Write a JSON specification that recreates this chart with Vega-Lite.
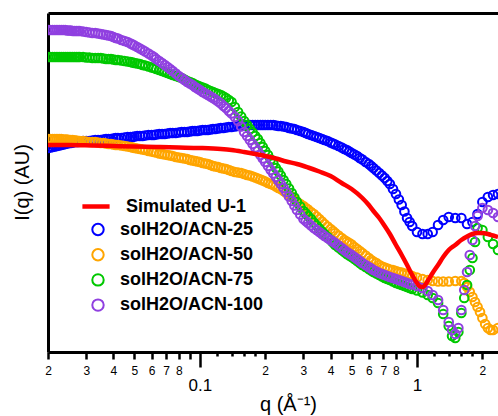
{
  "$schema": "https://vega.github.io/schema/vega-lite/v6.json",
  "width": 450,
  "height": 339,
  "autosize": {"type": "none"},
  "padding": {"left": 48, "top": 13, "right": 0, "bottom": 64},
  "background": "white",
  "config": {"view": {"stroke": null}, "font": "Liberation Sans"},
  "datasets": {
    "saxs": [
      {"q":0.020,"solH2O/ACN-25":204,"solH2O/ACN-50":213,"solH2O/ACN-75":295,"solH2O/ACN-100":322},
      {"q":0.0205,"solH2O/ACN-25":204.5,"solH2O/ACN-50":213,"solH2O/ACN-75":295,"solH2O/ACN-100":322},
      {"q":0.021,"solH2O/ACN-25":205,"solH2O/ACN-50":213,"solH2O/ACN-75":295,"solH2O/ACN-100":322},
      {"q":0.0215,"solH2O/ACN-25":205.5,"solH2O/ACN-50":213,"solH2O/ACN-75":295,"solH2O/ACN-100":322},
      {"q":0.022,"solH2O/ACN-25":206,"solH2O/ACN-50":213,"solH2O/ACN-75":295,"solH2O/ACN-100":322},
      {"q":0.0225,"solH2O/ACN-25":206.5,"solH2O/ACN-50":213,"solH2O/ACN-75":295,"solH2O/ACN-100":322},
      {"q":0.023,"solH2O/ACN-25":207,"solH2O/ACN-50":213,"solH2O/ACN-75":295,"solH2O/ACN-100":322},
      {"q":0.0235,"solH2O/ACN-25":207.5,"solH2O/ACN-50":212.5,"solH2O/ACN-75":295,"solH2O/ACN-100":322},
      {"q":0.024,"solH2O/ACN-25":208,"solH2O/ACN-50":212.5,"solH2O/ACN-75":295,"solH2O/ACN-100":322},
      {"q":0.0245,"solH2O/ACN-25":208.5,"solH2O/ACN-50":212.5,"solH2O/ACN-75":295,"solH2O/ACN-100":321.5},
      {"q":0.025,"solH2O/ACN-25":209,"solH2O/ACN-50":212,"solH2O/ACN-75":295,"solH2O/ACN-100":321.5},
      {"q":0.0255,"solH2O/ACN-25":209,"solH2O/ACN-50":212,"solH2O/ACN-75":295,"solH2O/ACN-100":321.5},
      {"q":0.026,"solH2O/ACN-25":209.5,"solH2O/ACN-50":212,"solH2O/ACN-75":295,"solH2O/ACN-100":321},
      {"q":0.0265,"solH2O/ACN-25":210,"solH2O/ACN-50":211.5,"solH2O/ACN-75":295,"solH2O/ACN-100":321},
      {"q":0.027,"solH2O/ACN-25":210,"solH2O/ACN-50":211.5,"solH2O/ACN-75":295,"solH2O/ACN-100":321},
      {"q":0.0275,"solH2O/ACN-25":210,"solH2O/ACN-50":211,"solH2O/ACN-75":295,"solH2O/ACN-100":321},
      {"q":0.028,"solH2O/ACN-25":210.5,"solH2O/ACN-50":211,"solH2O/ACN-75":295,"solH2O/ACN-100":321},
      {"q":0.029,"solH2O/ACN-25":211,"solH2O/ACN-50":211,"solH2O/ACN-75":295,"solH2O/ACN-100":320.5},
      {"q":0.030,"solH2O/ACN-25":211,"solH2O/ACN-50":210.5,"solH2O/ACN-75":294.5,"solH2O/ACN-100":320},
      {"q":0.031,"solH2O/ACN-25":211,"solH2O/ACN-50":210,"solH2O/ACN-75":294.5,"solH2O/ACN-100":319.5},
      {"q":0.032,"solH2O/ACN-25":211.5,"solH2O/ACN-50":210,"solH2O/ACN-75":294,"solH2O/ACN-100":319},
      {"q":0.033,"solH2O/ACN-25":212,"solH2O/ACN-50":210,"solH2O/ACN-75":294,"solH2O/ACN-100":319},
      {"q":0.034,"solH2O/ACN-25":212,"solH2O/ACN-50":209.5,"solH2O/ACN-75":294,"solH2O/ACN-100":318.5},
      {"q":0.035,"solH2O/ACN-25":212,"solH2O/ACN-50":209,"solH2O/ACN-75":294,"solH2O/ACN-100":318},
      {"q":0.036,"solH2O/ACN-25":212.5,"solH2O/ACN-50":209,"solH2O/ACN-75":293.5,"solH2O/ACN-100":317.5},
      {"q":0.037,"solH2O/ACN-25":213,"solH2O/ACN-50":208.5,"solH2O/ACN-75":293,"solH2O/ACN-100":317},
      {"q":0.038,"solH2O/ACN-25":213,"solH2O/ACN-50":208,"solH2O/ACN-75":293,"solH2O/ACN-100":316.5},
      {"q":0.039,"solH2O/ACN-25":213,"solH2O/ACN-50":208,"solH2O/ACN-75":293,"solH2O/ACN-100":316},
      {"q":0.040,"solH2O/ACN-25":213.5,"solH2O/ACN-50":207.5,"solH2O/ACN-75":292.5,"solH2O/ACN-100":315},
      {"q":0.041,"solH2O/ACN-25":214,"solH2O/ACN-50":207,"solH2O/ACN-75":292,"solH2O/ACN-100":314},
      {"q":0.042,"solH2O/ACN-25":214,"solH2O/ACN-50":207,"solH2O/ACN-75":292,"solH2O/ACN-100":313.5},
      {"q":0.0435,"solH2O/ACN-25":214,"solH2O/ACN-50":206.5,"solH2O/ACN-75":291.5,"solH2O/ACN-100":312},
      {"q":0.045,"solH2O/ACN-25":214.5,"solH2O/ACN-50":206,"solH2O/ACN-75":291,"solH2O/ACN-100":311},
      {"q":0.0465,"solH2O/ACN-25":215,"solH2O/ACN-50":205.5,"solH2O/ACN-75":290.5,"solH2O/ACN-100":310},
      {"q":0.048,"solH2O/ACN-25":215,"solH2O/ACN-50":205,"solH2O/ACN-75":290,"solH2O/ACN-100":308.5},
      {"q":0.049,"solH2O/ACN-25":215,"solH2O/ACN-50":204.5,"solH2O/ACN-75":289.5,"solH2O/ACN-100":307.5},
      {"q":0.050,"solH2O/ACN-25":215.5,"solH2O/ACN-50":204,"solH2O/ACN-75":289,"solH2O/ACN-100":306.5},
      {"q":0.0515,"solH2O/ACN-25":216,"solH2O/ACN-50":203.5,"solH2O/ACN-75":288.5,"solH2O/ACN-100":305},
      {"q":0.053,"solH2O/ACN-25":216,"solH2O/ACN-50":203,"solH2O/ACN-75":288,"solH2O/ACN-100":303.5},
      {"q":0.0545,"solH2O/ACN-25":216,"solH2O/ACN-50":202.5,"solH2O/ACN-75":287,"solH2O/ACN-100":302},
      {"q":0.056,"solH2O/ACN-25":216.5,"solH2O/ACN-50":202,"solH2O/ACN-75":286.5,"solH2O/ACN-100":300.5},
      {"q":0.058,"solH2O/ACN-25":217,"solH2O/ACN-50":201,"solH2O/ACN-75":285.5,"solH2O/ACN-100":298.5},
      {"q":0.060,"solH2O/ACN-25":217,"solH2O/ACN-50":200.5,"solH2O/ACN-75":284.5,"solH2O/ACN-100":296.5},
      {"q":0.0615,"solH2O/ACN-25":217,"solH2O/ACN-50":200,"solH2O/ACN-75":284,"solH2O/ACN-100":295},
      {"q":0.063,"solH2O/ACN-25":217.5,"solH2O/ACN-50":199.5,"solH2O/ACN-75":283,"solH2O/ACN-100":293},
      {"q":0.065,"solH2O/ACN-25":218,"solH2O/ACN-50":198.5,"solH2O/ACN-75":282,"solH2O/ACN-100":291},
      {"q":0.067,"solH2O/ACN-25":218,"solH2O/ACN-50":198,"solH2O/ACN-75":281,"solH2O/ACN-100":289},
      {"q":0.069,"solH2O/ACN-25":218,"solH2O/ACN-50":197.5,"solH2O/ACN-75":280,"solH2O/ACN-100":287},
      {"q":0.071,"solH2O/ACN-25":218.5,"solH2O/ACN-50":197,"solH2O/ACN-75":279,"solH2O/ACN-100":285},
      {"q":0.073,"solH2O/ACN-25":219,"solH2O/ACN-50":196.5,"solH2O/ACN-75":278,"solH2O/ACN-100":283},
      {"q":0.075,"solH2O/ACN-25":219,"solH2O/ACN-50":196,"solH2O/ACN-75":277,"solH2O/ACN-100":281},
      {"q":0.0775,"solH2O/ACN-25":219,"solH2O/ACN-50":195,"solH2O/ACN-75":276,"solH2O/ACN-100":278.5},
      {"q":0.080,"solH2O/ACN-25":219.5,"solH2O/ACN-50":194.5,"solH2O/ACN-75":275,"solH2O/ACN-100":276},
      {"q":0.0825,"solH2O/ACN-25":220,"solH2O/ACN-50":194,"solH2O/ACN-75":274,"solH2O/ACN-100":274},
      {"q":0.085,"solH2O/ACN-25":220,"solH2O/ACN-50":193.5,"solH2O/ACN-75":272.5,"solH2O/ACN-100":272},
      {"q":0.0875,"solH2O/ACN-25":220,"solH2O/ACN-50":193,"solH2O/ACN-75":271,"solH2O/ACN-100":270},
      {"q":0.090,"solH2O/ACN-25":220.5,"solH2O/ACN-50":192,"solH2O/ACN-75":270,"solH2O/ACN-100":268.5},
      {"q":0.0925,"solH2O/ACN-25":221,"solH2O/ACN-50":191.5,"solH2O/ACN-75":269,"solH2O/ACN-100":267},
      {"q":0.095,"solH2O/ACN-25":221,"solH2O/ACN-50":191,"solH2O/ACN-75":267.5,"solH2O/ACN-100":265},
      {"q":0.0975,"solH2O/ACN-25":221,"solH2O/ACN-50":190.5,"solH2O/ACN-75":266.5,"solH2O/ACN-100":263.5},
      {"q":0.100,"solH2O/ACN-25":221.5,"solH2O/ACN-50":190,"solH2O/ACN-75":265.5,"solH2O/ACN-100":262},
      {"q":0.103,"solH2O/ACN-25":222,"solH2O/ACN-50":189,"solH2O/ACN-75":264.5,"solH2O/ACN-100":260},
      {"q":0.106,"solH2O/ACN-25":222,"solH2O/ACN-50":188.5,"solH2O/ACN-75":263.5,"solH2O/ACN-100":258.5},
      {"q":0.109,"solH2O/ACN-25":222,"solH2O/ACN-50":188,"solH2O/ACN-75":262,"solH2O/ACN-100":257},
      {"q":0.112,"solH2O/ACN-25":222.5,"solH2O/ACN-50":187,"solH2O/ACN-75":261,"solH2O/ACN-100":255.5},
      {"q":0.115,"solH2O/ACN-25":223,"solH2O/ACN-50":186,"solH2O/ACN-75":260,"solH2O/ACN-100":254},
      {"q":0.118,"solH2O/ACN-25":223,"solH2O/ACN-50":185.5,"solH2O/ACN-75":259,"solH2O/ACN-100":252.5},
      {"q":0.1215,"solH2O/ACN-25":223.5,"solH2O/ACN-50":185,"solH2O/ACN-75":258,"solH2O/ACN-100":250.5},
      {"q":0.125,"solH2O/ACN-25":224,"solH2O/ACN-50":184,"solH2O/ACN-75":257,"solH2O/ACN-100":248.5},
      {"q":0.1285,"solH2O/ACN-25":224,"solH2O/ACN-50":183.5,"solH2O/ACN-75":255.5,"solH2O/ACN-100":246},
      {"q":0.132,"solH2O/ACN-25":224.5,"solH2O/ACN-50":183,"solH2O/ACN-75":254,"solH2O/ACN-100":244},
      {"q":0.136,"solH2O/ACN-25":225,"solH2O/ACN-50":182,"solH2O/ACN-75":252,"solH2O/ACN-100":241},
      {"q":0.140,"solH2O/ACN-25":225,"solH2O/ACN-50":181,"solH2O/ACN-75":250,"solH2O/ACN-100":238.5},
      {"q":0.145,"solH2O/ACN-25":225.5,"solH2O/ACN-50":180,"solH2O/ACN-75":245,"solH2O/ACN-100":235},
      {"q":0.150,"solH2O/ACN-25":226,"solH2O/ACN-50":179.5,"solH2O/ACN-75":240,"solH2O/ACN-100":231},
      {"q":0.155,"solH2O/ACN-25":226,"solH2O/ACN-50":179,"solH2O/ACN-75":235.5,"solH2O/ACN-100":225.5},
      {"q":0.160,"solH2O/ACN-25":226.5,"solH2O/ACN-50":178,"solH2O/ACN-75":231,"solH2O/ACN-100":220},
      {"q":0.165,"solH2O/ACN-25":227,"solH2O/ACN-50":177,"solH2O/ACN-75":227,"solH2O/ACN-100":216},
      {"q":0.170,"solH2O/ACN-25":227,"solH2O/ACN-50":176.5,"solH2O/ACN-75":223,"solH2O/ACN-100":212},
      {"q":0.175,"solH2O/ACN-25":227,"solH2O/ACN-50":175.5,"solH2O/ACN-75":219.5,"solH2O/ACN-100":208},
      {"q":0.180,"solH2O/ACN-25":227,"solH2O/ACN-50":174.5,"solH2O/ACN-75":216,"solH2O/ACN-100":204.5},
      {"q":0.185,"solH2O/ACN-25":227,"solH2O/ACN-50":173.5,"solH2O/ACN-75":213,"solH2O/ACN-100":201},
      {"q":0.190,"solH2O/ACN-25":227,"solH2O/ACN-50":172.5,"solH2O/ACN-75":209,"solH2O/ACN-100":197},
      {"q":0.195,"solH2O/ACN-25":227,"solH2O/ACN-50":171.5,"solH2O/ACN-75":205,"solH2O/ACN-100":193.5},
      {"q":0.200,"solH2O/ACN-25":227,"solH2O/ACN-50":170.5,"solH2O/ACN-75":201,"solH2O/ACN-100":190},
      {"q":0.206,"solH2O/ACN-25":227,"solH2O/ACN-50":169,"solH2O/ACN-75":197,"solH2O/ACN-100":186},
      {"q":0.212,"solH2O/ACN-25":227,"solH2O/ACN-50":168,"solH2O/ACN-75":192.5,"solH2O/ACN-100":182},
      {"q":0.218,"solH2O/ACN-25":227,"solH2O/ACN-50":167,"solH2O/ACN-75":188.5,"solH2O/ACN-100":178.5},
      {"q":0.224,"solH2O/ACN-25":226.5,"solH2O/ACN-50":165.5,"solH2O/ACN-75":184,"solH2O/ACN-100":175},
      {"q":0.230,"solH2O/ACN-25":226,"solH2O/ACN-50":164,"solH2O/ACN-75":180.5,"solH2O/ACN-100":171.5},
      {"q":0.236,"solH2O/ACN-25":226,"solH2O/ACN-50":163,"solH2O/ACN-75":176.5,"solH2O/ACN-100":168},
      {"q":0.243,"solH2O/ACN-25":225.5,"solH2O/ACN-50":161,"solH2O/ACN-75":172,"solH2O/ACN-100":164},
      {"q":0.250,"solH2O/ACN-25":225,"solH2O/ACN-50":159,"solH2O/ACN-75":168,"solH2O/ACN-100":160},
      {"q":0.2575,"solH2O/ACN-25":224,"solH2O/ACN-50":157,"solH2O/ACN-75":163.5,"solH2O/ACN-100":155.5},
      {"q":0.265,"solH2O/ACN-25":223.5,"solH2O/ACN-50":155,"solH2O/ACN-75":159,"solH2O/ACN-100":151},
      {"q":0.2725,"solH2O/ACN-25":223,"solH2O/ACN-50":153,"solH2O/ACN-75":154.5,"solH2O/ACN-100":146.5},
      {"q":0.280,"solH2O/ACN-25":222,"solH2O/ACN-50":150.5,"solH2O/ACN-75":150,"solH2O/ACN-100":142},
      {"q":0.290,"solH2O/ACN-25":221,"solH2O/ACN-50":148,"solH2O/ACN-75":145.5,"solH2O/ACN-100":137.5},
      {"q":0.300,"solH2O/ACN-25":220,"solH2O/ACN-50":146,"solH2O/ACN-75":141,"solH2O/ACN-100":133},
      {"q":0.3075,"solH2O/ACN-25":219,"solH2O/ACN-50":144,"solH2O/ACN-75":138.5,"solH2O/ACN-100":131},
      {"q":0.315,"solH2O/ACN-25":218,"solH2O/ACN-50":142.5,"solH2O/ACN-75":136,"solH2O/ACN-100":129},
      {"q":0.325,"solH2O/ACN-25":217,"solH2O/ACN-50":140,"solH2O/ACN-75":133,"solH2O/ACN-100":126.5},
      {"q":0.335,"solH2O/ACN-25":216,"solH2O/ACN-50":138,"solH2O/ACN-75":129.5,"solH2O/ACN-100":124},
      {"q":0.345,"solH2O/ACN-25":215,"solH2O/ACN-50":135.5,"solH2O/ACN-75":126.5,"solH2O/ACN-100":122},
      {"q":0.355,"solH2O/ACN-25":214,"solH2O/ACN-50":133,"solH2O/ACN-75":123.5,"solH2O/ACN-100":120},
      {"q":0.365,"solH2O/ACN-25":213,"solH2O/ACN-50":130.5,"solH2O/ACN-75":120.5,"solH2O/ACN-100":118},
      {"q":0.375,"solH2O/ACN-25":212,"solH2O/ACN-50":128,"solH2O/ACN-75":118,"solH2O/ACN-100":116},
      {"q":0.3875,"solH2O/ACN-25":211,"solH2O/ACN-50":125.5,"solH2O/ACN-75":115,"solH2O/ACN-100":114},
      {"q":0.400,"solH2O/ACN-25":209.5,"solH2O/ACN-50":123,"solH2O/ACN-75":112,"solH2O/ACN-100":112},
      {"q":0.410,"solH2O/ACN-25":208.5,"solH2O/ACN-50":121,"solH2O/ACN-75":109.5,"solH2O/ACN-100":110.5},
      {"q":0.420,"solH2O/ACN-25":207.5,"solH2O/ACN-50":119,"solH2O/ACN-75":107,"solH2O/ACN-100":109},
      {"q":0.435,"solH2O/ACN-25":206,"solH2O/ACN-50":116.5,"solH2O/ACN-75":104.5,"solH2O/ACN-100":106.5},
      {"q":0.450,"solH2O/ACN-25":204.5,"solH2O/ACN-50":114,"solH2O/ACN-75":102,"solH2O/ACN-100":104},
      {"q":0.4625,"solH2O/ACN-25":203,"solH2O/ACN-50":112,"solH2O/ACN-75":100,"solH2O/ACN-100":102},
      {"q":0.475,"solH2O/ACN-25":202,"solH2O/ACN-50":110.5,"solH2O/ACN-75":98,"solH2O/ACN-100":100},
      {"q":0.4875,"solH2O/ACN-25":200.5,"solH2O/ACN-50":109,"solH2O/ACN-75":96.5,"solH2O/ACN-100":98.5},
      {"q":0.500,"solH2O/ACN-25":199,"solH2O/ACN-50":107.5,"solH2O/ACN-75":95,"solH2O/ACN-100":97},
      {"q":0.515,"solH2O/ACN-25":197.5,"solH2O/ACN-50":105,"solH2O/ACN-75":93,"solH2O/ACN-100":95},
      {"q":0.530,"solH2O/ACN-25":196,"solH2O/ACN-50":103,"solH2O/ACN-75":91,"solH2O/ACN-100":93},
      {"q":0.545,"solH2O/ACN-25":194,"solH2O/ACN-50":101,"solH2O/ACN-75":89,"solH2O/ACN-100":91},
      {"q":0.560,"solH2O/ACN-25":192.5,"solH2O/ACN-50":99,"solH2O/ACN-75":87,"solH2O/ACN-100":89},
      {"q":0.580,"solH2O/ACN-25":190,"solH2O/ACN-50":96.5,"solH2O/ACN-75":85,"solH2O/ACN-100":87},
      {"q":0.600,"solH2O/ACN-25":188,"solH2O/ACN-50":94,"solH2O/ACN-75":83,"solH2O/ACN-100":85},
      {"q":0.615,"solH2O/ACN-25":186,"solH2O/ACN-50":92,"solH2O/ACN-75":81.5,"solH2O/ACN-100":83.5},
      {"q":0.630,"solH2O/ACN-25":184,"solH2O/ACN-50":90.5,"solH2O/ACN-75":80,"solH2O/ACN-100":82},
      {"q":0.650,"solH2O/ACN-25":181.5,"solH2O/ACN-50":89,"solH2O/ACN-75":78.5,"solH2O/ACN-100":80.5},
      {"q":0.670,"solH2O/ACN-25":179,"solH2O/ACN-50":87,"solH2O/ACN-75":77,"solH2O/ACN-100":79},
      {"q":0.690,"solH2O/ACN-25":176.5,"solH2O/ACN-50":85.5,"solH2O/ACN-75":75.5,"solH2O/ACN-100":78},
      {"q":0.710,"solH2O/ACN-25":174,"solH2O/ACN-50":84.5,"solH2O/ACN-75":74,"solH2O/ACN-100":77},
      {"q":0.730,"solH2O/ACN-25":171,"solH2O/ACN-50":83.5,"solH2O/ACN-75":73,"solH2O/ACN-100":76},
      {"q":0.750,"solH2O/ACN-25":168,"solH2O/ACN-50":82.5,"solH2O/ACN-75":72,"solH2O/ACN-100":75},
      {"q":0.775,"solH2O/ACN-25":163,"solH2O/ACN-50":82,"solH2O/ACN-75":70.5,"solH2O/ACN-100":74},
      {"q":0.800,"solH2O/ACN-25":158,"solH2O/ACN-50":81,"solH2O/ACN-75":69,"solH2O/ACN-100":73},
      {"q":0.825,"solH2O/ACN-25":152.5,"solH2O/ACN-50":80,"solH2O/ACN-75":68,"solH2O/ACN-100":72},
      {"q":0.850,"solH2O/ACN-25":147,"solH2O/ACN-50":79.5,"solH2O/ACN-75":67,"solH2O/ACN-100":71},
      {"q":0.875,"solH2O/ACN-25":140.5,"solH2O/ACN-50":78.5,"solH2O/ACN-75":66,"solH2O/ACN-100":70},
      {"q":0.900,"solH2O/ACN-25":134,"solH2O/ACN-50":77.5,"solH2O/ACN-75":65,"solH2O/ACN-100":69},
      {"q":0.925,"solH2O/ACN-25":130,"solH2O/ACN-50":77,"solH2O/ACN-75":64,"solH2O/ACN-100":68},
      {"q":0.950,"solH2O/ACN-25":126,"solH2O/ACN-50":76,"solH2O/ACN-75":63,"solH2O/ACN-100":67.5},
      {"q":1.00,"solH2O/ACN-25":120,"solH2O/ACN-50":74.5,"solH2O/ACN-75":61.5,"solH2O/ACN-100":66},
      {"q":1.06,"solH2O/ACN-25":118,"solH2O/ACN-50":73,"solH2O/ACN-75":59.5,"solH2O/ACN-100":64},
      {"q":1.12,"solH2O/ACN-25":118,"solH2O/ACN-50":72,"solH2O/ACN-75":57,"solH2O/ACN-100":61},
      {"q":1.18,"solH2O/ACN-25":120,"solH2O/ACN-50":71,"solH2O/ACN-75":54,"solH2O/ACN-100":57},
      {"q":1.25,"solH2O/ACN-25":127,"solH2O/ACN-50":70.5,"solH2O/ACN-75":49,"solH2O/ACN-100":52},
      {"q":1.32,"solH2O/ACN-25":132,"solH2O/ACN-50":70.5,"solH2O/ACN-75":38,"solH2O/ACN-100":42},
      {"q":1.40,"solH2O/ACN-25":135,"solH2O/ACN-50":70.5,"solH2O/ACN-75":26,"solH2O/ACN-100":30},
      {"q":1.45,"solH2O/ACN-75":16,"solH2O/ACN-100":22},
      {"q":1.50,"solH2O/ACN-25":134,"solH2O/ACN-50":71,"solH2O/ACN-75":14,"solH2O/ACN-100":18},
      {"q":1.55,"solH2O/ACN-75":20,"solH2O/ACN-100":24},
      {"q":1.60,"solH2O/ACN-25":134,"solH2O/ACN-50":71,"solH2O/ACN-75":39,"solH2O/ACN-100":42},
      {"q":1.65,"solH2O/ACN-50":69,"solH2O/ACN-75":54,"solH2O/ACN-100":62},
      {"q":1.70,"solH2O/ACN-25":128,"solH2O/ACN-50":65,"solH2O/ACN-75":67,"solH2O/ACN-100":80},
      {"q":1.75,"solH2O/ACN-50":60,"solH2O/ACN-75":82,"solH2O/ACN-100":97},
      {"q":1.80,"solH2O/ACN-25":130,"solH2O/ACN-50":55,"solH2O/ACN-75":94,"solH2O/ACN-100":112},
      {"q":1.85,"solH2O/ACN-50":50,"solH2O/ACN-75":110,"solH2O/ACN-100":126},
      {"q":1.90,"solH2O/ACN-25":138,"solH2O/ACN-50":45,"solH2O/ACN-75":124,"solH2O/ACN-100":136},
      {"q":1.95,"solH2O/ACN-50":40},
      {"q":2.00,"solH2O/ACN-25":150,"solH2O/ACN-50":34,"solH2O/ACN-75":122,"solH2O/ACN-100":144},
      {"q":2.06,"solH2O/ACN-50":28},
      {"q":2.12,"solH2O/ACN-25":155,"solH2O/ACN-50":24,"solH2O/ACN-75":115,"solH2O/ACN-100":142},
      {"q":2.18,"solH2O/ACN-50":22},
      {"q":2.24,"solH2O/ACN-25":157,"solH2O/ACN-50":22,"solH2O/ACN-75":108,"solH2O/ACN-100":139},
      {"q":2.36,"solH2O/ACN-25":158,"solH2O/ACN-50":24,"solH2O/ACN-75":102,"solH2O/ACN-100":135}
    ],
    "model": [
      {"q":0.020,"Simulated U-1":207},
      {"q":0.025,"Simulated U-1":207},
      {"q":0.032,"Simulated U-1":206.5},
      {"q":0.040,"Simulated U-1":206},
      {"q":0.050,"Simulated U-1":205.5},
      {"q":0.063,"Simulated U-1":205},
      {"q":0.080,"Simulated U-1":204.5},
      {"q":0.100,"Simulated U-1":204},
      {"q":0.125,"Simulated U-1":203},
      {"q":0.140,"Simulated U-1":202},
      {"q":0.160,"Simulated U-1":200},
      {"q":0.180,"Simulated U-1":198},
      {"q":0.200,"Simulated U-1":196},
      {"q":0.224,"Simulated U-1":193.5},
      {"q":0.250,"Simulated U-1":190.5},
      {"q":0.280,"Simulated U-1":188},
      {"q":0.315,"Simulated U-1":184.5},
      {"q":0.355,"Simulated U-1":180.5},
      {"q":0.400,"Simulated U-1":176},
      {"q":0.450,"Simulated U-1":169},
      {"q":0.500,"Simulated U-1":163},
      {"q":0.560,"Simulated U-1":154},
      {"q":0.600,"Simulated U-1":147},
      {"q":0.630,"Simulated U-1":141},
      {"q":0.670,"Simulated U-1":134},
      {"q":0.710,"Simulated U-1":126},
      {"q":0.750,"Simulated U-1":118},
      {"q":0.800,"Simulated U-1":107},
      {"q":0.850,"Simulated U-1":97},
      {"q":0.900,"Simulated U-1":87},
      {"q":0.950,"Simulated U-1":77},
      {"q":1.00,"Simulated U-1":69},
      {"q":1.03,"Simulated U-1":65.5},
      {"q":1.06,"Simulated U-1":65},
      {"q":1.09,"Simulated U-1":67},
      {"q":1.12,"Simulated U-1":71},
      {"q":1.18,"Simulated U-1":79},
      {"q":1.25,"Simulated U-1":87},
      {"q":1.32,"Simulated U-1":95},
      {"q":1.40,"Simulated U-1":102},
      {"q":1.50,"Simulated U-1":107},
      {"q":1.60,"Simulated U-1":112},
      {"q":1.70,"Simulated U-1":115.5},
      {"q":1.80,"Simulated U-1":118},
      {"q":1.90,"Simulated U-1":119},
      {"q":2.00,"Simulated U-1":119},
      {"q":2.12,"Simulated U-1":118},
      {"q":2.24,"Simulated U-1":116.5},
      {"q":2.36,"Simulated U-1":115}
    ]
  },
  "layer": [
    {
      "data": {"name": "saxs"},
      "transform": [{"fold": ["solH2O/ACN-25"], "as": ["series", "I"]}],
      "mark": {"type": "point", "shape": "circle", "filled": false, "size": 75, "strokeWidth": 2, "opacity": 1, "clip": true},
      "encoding": {
        "x": {
          "field": "q", "type": "quantitative",
          "scale": {"type": "log", "domain": [0.02, 2.36], "nice": false},
          "axis": {
            "orient": "bottom",
            "values": [0.02,0.03,0.04,0.05,0.06,0.07,0.08,0.09,0.1,0.12,0.14,0.16,0.18,0.2,0.3,0.4,0.5,0.6,0.7,0.8,0.9,1,1.2,1.4,1.6,1.8,2],
            "labelExpr": "datum.value == 0.1 ? '0.1' : datum.value == 1 ? '1' : indexof([0.02,0.03,0.04,0.05,0.06,0.07,0.08,0.2,0.3,0.4,0.5,0.6,0.7,0.8,2], datum.value) >= 0 ? format(datum.value / pow(10, floor(log(datum.value) / LN10)), '.0f') : ''",
            "grid": false,
            "domain": true, "domainColor": "black", "domainWidth": 3,
            "ticks": true, "tickColor": "black", "tickWidth": 2.5,
            "tickSize": {"condition": [
              {"test": "datum.value == 0.1 || datum.value == 1", "value": 15},
              {"test": "indexof([0.12,0.14,0.16,0.18,1.2,1.4,1.6,1.8], datum.value) >= 0", "value": 4}
            ], "value": 7},
            "labelFont": "Liberation Sans",
            "labelColor": "black",
            "labelFontSize": {"condition": {"test": "datum.value == 0.1 || datum.value == 1", "value": 17}, "value": 12},
            "labelPadding": {"condition": {"test": "datum.value == 0.1 || datum.value == 1", "value": 10}, "value": 6},
            "labelFlush": false,
            "labelOverlap": false,
            "title": "q (Å⁻¹)",
            "titleFont": "Liberation Sans",
            "titleFontSize": 20,
            "titleFontWeight": "normal",
            "titleColor": "black",
            "titleX": 240,
            "titleY": 58,
            "titleBaseline": "alphabetic",
            "titleAlign": "center"
          }
        },
        "y": {
          "field": "I", "type": "quantitative",
          "scale": {"domain": [0, 339], "nice": false},
          "axis": {
            "orient": "left",
            "grid": false,
            "domain": true, "domainColor": "black", "domainWidth": 3,
            "ticks": false, "labels": false,
            "title": "I(q) (AU)",
            "titleFont": "Liberation Sans",
            "titleFontSize": 20,
            "titleFontWeight": "normal",
            "titleColor": "black",
            "titleX": -26,
            "titleY": 169,
            "titleAngle": 270,
            "titleAlign": "center",
            "titleBaseline": "middle"
          }
        },
        "color": {
          "field": "series", "type": "nominal",
          "scale": {"domain": ["solH2O/ACN-25", "solH2O/ACN-50", "solH2O/ACN-75", "solH2O/ACN-100"], "range": ["#0000FF", "#FFA500", "#00C800", "#9040E0"]},
          "legend": {
            "orient": "none", "legendX": 41, "legendY": 207.5,
            "title": null, "padding": 0,
            "symbolType": "circle", "symbolSize": 130, "symbolStrokeWidth": 2,
            "labelFont": "Liberation Sans", "labelFontSize": 18, "labelFontWeight": "bold", "labelColor": "black",
            "labelOffset": 13, "rowPadding": 5.2, "labelLimit": 300
          }
        }
      }
    },
    {
      "data": {"name": "saxs"},
      "transform": [{"fold": ["solH2O/ACN-50"], "as": ["series", "I"]}],
      "mark": {"type": "point", "shape": "circle", "filled": false, "size": 75, "strokeWidth": 2, "opacity": 1, "clip": true},
      "encoding": {
        "x": {"field": "q", "type": "quantitative", "scale": {"type": "log", "domain": [0.02, 2.36], "nice": false}, "axis": null},
        "y": {"field": "I", "type": "quantitative", "scale": {"domain": [0, 339], "nice": false}, "axis": null},
        "color": {"field": "series", "type": "nominal"}
      }
    },
    {
      "data": {"name": "saxs"},
      "transform": [{"fold": ["solH2O/ACN-75"], "as": ["series", "I"]}],
      "mark": {"type": "point", "shape": "circle", "filled": false, "size": 75, "strokeWidth": 2, "opacity": 1, "clip": true},
      "encoding": {
        "x": {"field": "q", "type": "quantitative", "scale": {"type": "log", "domain": [0.02, 2.36], "nice": false}, "axis": null},
        "y": {"field": "I", "type": "quantitative", "scale": {"domain": [0, 339], "nice": false}, "axis": null},
        "color": {"field": "series", "type": "nominal"}
      }
    },
    {
      "data": {"name": "saxs"},
      "transform": [{"fold": ["solH2O/ACN-100"], "as": ["series", "I"]}],
      "mark": {"type": "point", "shape": "circle", "filled": false, "size": 75, "strokeWidth": 2, "opacity": 1, "clip": true},
      "encoding": {
        "x": {"field": "q", "type": "quantitative", "scale": {"type": "log", "domain": [0.02, 2.36], "nice": false}, "axis": null},
        "y": {"field": "I", "type": "quantitative", "scale": {"domain": [0, 339], "nice": false}, "axis": null},
        "color": {"field": "series", "type": "nominal"}
      }
    },
    {
      "data": {"name": "model"},
      "transform": [{"fold": ["Simulated U-1"], "as": ["series", "I"]}],
      "mark": {"type": "line", "strokeWidth": 4.5, "interpolate": "monotone", "clip": true},
      "encoding": {
        "x": {
          "field": "q", "type": "quantitative", "scale": {"type": "log", "domain": [0.02, 2.36], "nice": false},
          "axis": {"orient": "top", "grid": false, "domain": true, "domainColor": "black", "domainWidth": 3, "ticks": false, "labels": false, "title": null}
        },
        "y": {"field": "I", "type": "quantitative", "scale": {"domain": [0, 339], "nice": false}, "axis": null},
        "stroke": {
          "field": "series", "type": "nominal",
          "scale": {"domain": ["Simulated U-1"], "range": ["#FF0000"]},
          "legend": {
            "orient": "none", "legendX": 32, "legendY": 177.5,
            "title": null, "padding": 0,
            "symbolType": "stroke", "symbolSize": 740, "symbolStrokeWidth": 4.5,
            "labelFont": "Liberation Sans", "labelFontSize": 18, "labelFontWeight": "bold", "labelColor": "black",
            "labelOffset": 14, "labelLimit": 300
          }
        }
      }
    }
  ],
  "resolve": {"axis": {"x": "independent", "y": "independent"}}
}
